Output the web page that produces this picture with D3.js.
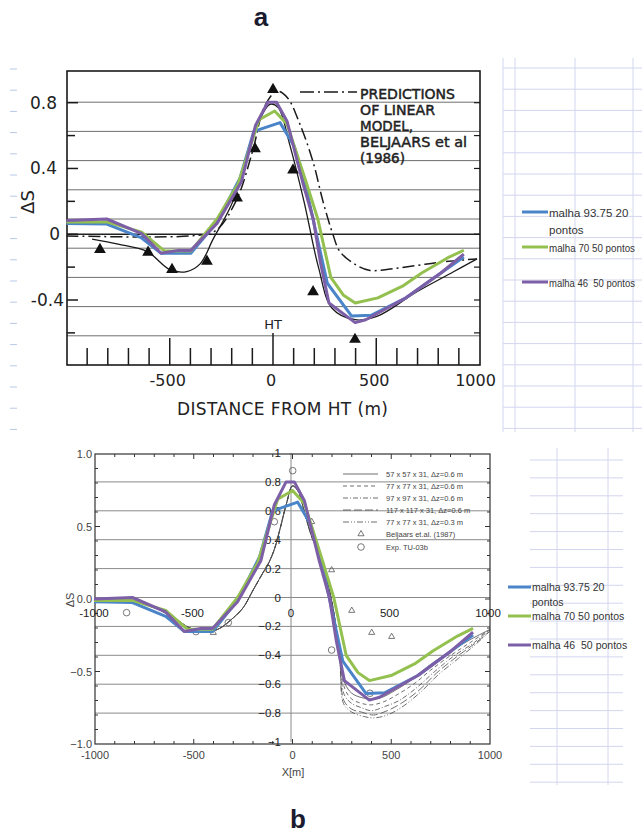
<!DOCTYPE html>
<html>
<head>
<meta charset="utf-8">
<script src="https://cdn.jsdelivr.net/npm/d3@7"></script>
<style>
  body { margin: 0; background: #fff; }
  svg { display: block; }
</style>
</head>
<body>
<svg id="fig" width="642" height="833"></svg>
<script>
// ---------- series computed on three meshes (shared by both panels) ----------
const seriesNames  = ["malha 93.75 20 pontos", "malha 70 50 pontos", "malha 46  50 pontos"];
const seriesColors = ["#4a84c9", "#93c04f", "#7d5fa8"];

const malha9375 = [[-1000,-0.03],[-805,-0.035],[-636,-0.13],[-542,-0.235],[-398,-0.235],[-271,-0.02],
  [-160,0.28],[-93,0.60],[34,0.66],[102,0.50],[150,0.28],[200,-0.04],[263,-0.44],[381,-0.665],
  [475,-0.66],[644,-0.54],[813,-0.37],[924,-0.26]];
const malha70 = [[-1000,-0.02],[-805,-0.02],[-636,-0.09],[-525,-0.22],[-398,-0.22],[-271,0.0],
  [-169,0.24],[-68,0.68],[8,0.74],[68,0.65],[161,0.25],[217,0.0],[280,-0.40],[340,-0.52],
  [398,-0.575],[508,-0.54],[627,-0.46],[720,-0.37],[847,-0.265],[924,-0.214]];
const malha46 = [[-1000,-0.01],[-805,0.0],[-636,-0.10],[-542,-0.235],[-458,-0.215],[-398,-0.215],
  [-271,-0.03],[-153,0.255],[-85,0.64],[-25,0.80],[17,0.80],[68,0.67],[144,0.25],[195,0.0],
  [230,-0.30],[271,-0.575],[398,-0.71],[449,-0.69],[644,-0.54],[813,-0.37],[924,-0.24]];
const seriesData = [malha9375, malha70, malha46];

// ---------- panel a: field data and linear model ----------
const fieldTriangles = [[-838,-0.093],[-605,-0.11],[-489,-0.215],[-320,-0.165],[-174,0.22],
  [-87,0.52],[0,0.88],[97,0.39],[194,-0.35],[397,-0.64]];
const fittedCurve = [[-876,-0.03],[-750,-0.06],[-610,-0.105],[-499,-0.215],[-418,-0.227],
  [-353,-0.18],[-290,-0.03],[-194,0.2],[-97,0.6],[-15,0.79],[25,0.77],[80,0.55],[150,0.2],
  [220,-0.2],[286,-0.45],[397,-0.52],[503,-0.5],[697,-0.35],[872,-0.23],[988,-0.15]];
const linearModel = [[-1000,-0.01],[-400,-0.01],[-280,0.02],[-180,0.2],[-100,0.5],[-40,0.78],
  [20,0.87],[70,0.83],[131,0.667],[194,0.44],[242,0.2],[290,0.0],[324,-0.105],[406,-0.19],
  [470,-0.22],[581,-0.21],[697,-0.19],[809,-0.17],[988,-0.15]];
const legendA = ["PREDICTIONS", "OF LINEAR", "MODEL,", "BELJAARS et al", "(1986)"];
const legendAWidths = [95, 75, 53, 107, 45];
const yTicksA = [0.8, 0.4, 0, -0.4];
const yMinorA = [0.6, 0.2, -0.2, -0.6];
const xTicksA = [-500, 0, 500, 1000];

// ---------- panel b: grid-resolution runs ----------
const runsRise = [[-1000,-0.01],[-900,-0.01],[-800,-0.02],[-700,-0.06],[-600,-0.13],[-520,-0.2],
  [-450,-0.22],[-380,-0.21],[-300,-0.13],[-250,-0.06],[-200,0.06],[-150,0.18],[-120,0.25],
  [-90,0.35],[-60,0.5],[-30,0.66],[0,0.78],[30,0.74],[60,0.6],[100,0.42],[140,0.3],[180,0.1],[210,-0.1]];
const run57  = [[240,-0.38],[265,-0.58],[300,-0.65],[350,-0.68],[400,-0.69],[450,-0.68],[520,-0.63],[600,-0.56],[700,-0.45],[800,-0.36],[900,-0.28],[1000,-0.21]];
const run77  = [[240,-0.40],[265,-0.62],[300,-0.69],[350,-0.72],[400,-0.73],[460,-0.71],[530,-0.66],[620,-0.58],[700,-0.49],[800,-0.39],[900,-0.30],[1000,-0.21]];
const run97  = [[240,-0.42],[262,-0.66],[300,-0.72],[350,-0.75],[400,-0.77],[470,-0.74],[540,-0.70],[630,-0.61],[720,-0.50],[820,-0.39],[920,-0.30],[1000,-0.21]];
const run117 = [[240,-0.43],[260,-0.70],[300,-0.76],[350,-0.78],[410,-0.80],[480,-0.77],[550,-0.72],[640,-0.63],[730,-0.51],[830,-0.40],[930,-0.30],[1000,-0.22]];
const run77f = [[240,-0.44],[258,-0.72],[300,-0.78],[360,-0.81],[410,-0.82],[480,-0.80],[560,-0.74],[650,-0.64],[740,-0.52],[840,-0.41],[930,-0.31],[1000,-0.22]];
const runs = [run57, run77, run97, run117, run77f];
const runLabels = ["57 x 57 x 31, \u0394z=0.6 m", "77 x 77 x 31, \u0394z=0.6 m", "97 x 97 x 31, \u0394z=0.6 m",
  "117 x 117 x 31, \u0394z=0.6 m", "77 x 77 x 31, \u0394z=0.3 m"];
const runDash = ["none", "4,3", "5,2,1,2", "8,3", "6,2,1,2,1,2"];
const beljaarsPts = [[-401,-0.232],[97,0.533],[198,0.2],[300,-0.08],[401,-0.232],[502,-0.26]];
const expPts = [[-840,-0.094],[-489,-0.225],[-325,-0.163],[-92,0.533],[1,0.885],[198,-0.352],[392,-0.65]];
const yTicksB = [1.0, 0.5, 0.0, -0.5, -1.0];
const xTicksB = [-1000, -500, 0, 500, 1000];
const yTicksBe = [1, 0.8, 0.6, 0.4, 0.2, 0, -0.2, -0.4, -0.6, -0.8, -1];
const gridLevels = [0.8, 0.6, 0.4, 0.2, 0, -0.2, -0.4, -0.6, -0.8];

const svg = d3.select("#fig");
const fmt1 = d3.format(".1f");

// ---------- scales ----------
const xA  = d3.scaleLinear([-1000, 1000], [66.5, 479.5]);
const yAo = d3.scaleLinear([-0.4, 0.8], [300, 102.7]);
const yAe = d3.scaleLinear([-1, 1], [365, 73]);

const xBo = d3.scaleLinear([-1000, 1000], [95, 490]);
const yBo = d3.scaleLinear([-1, 1], [744, 454]);
const xBe = d3.scaleLinear([-1000, 1000], [94, 488]);
const yBe = d3.scaleLinear([-1, 1], [742, 453]);

const lineOf = (xs, ys, curve) => d3.line().x(d => xs(d[0])).y(d => ys(d[1])).curve(curve || d3.curveLinear);

// ---------- spreadsheet background cells ----------
const cellA = svg.append("g").attr("stroke", "#d3d6ef").attr("stroke-width", 1);
d3.range(18).forEach(i => {
  const y = 68 + i * 21.2;
  cellA.append("line").attr("x1", 503).attr("x2", 642).attr("y1", y).attr("y2", y);
  svg.append("line").attr("x1", 10).attr("x2", 17).attr("y1", y + 1).attr("y2", y + 1)
    .attr("stroke", "#b9c8e6").attr("stroke-width", 1);
});
[503, 515, 575, 633].forEach(x => cellA.append("line").attr("x1", x).attr("x2", x).attr("y1", 58).attr("y2", 432));

const cellB = svg.append("g").attr("stroke", "#d3d6ef").attr("stroke-width", 1);
d3.range(19).forEach(i => {
  const y = 460 + i * 17.9;
  cellB.append("line").attr("x1", 530).attr("x2", 623).attr("y1", y).attr("y2", y);
});
[557, 608].forEach(x => cellB.append("line").attr("x1", x).attr("x2", x).attr("y1", 448).attr("y2", 785));

// ================= panel a =================
const gA = svg.append("g");
// overlay gridlines
gridLevels.forEach(v => gA.append("line").attr("x1", 67).attr("x2", 480)
  .attr("y1", yAe(v)).attr("y2", yAe(v)).attr("stroke", "#6f6f6f").attr("stroke-width", 1));
// frame
gA.append("rect").attr("x", 67).attr("y", 71).attr("width", 413).attr("height", 294)
  .attr("fill", "none").attr("stroke", "#1a1a1a").attr("stroke-width", 1.6);
// zero line of the original axis
gA.append("line").attr("x1", 67).attr("x2", 480).attr("y1", yAo(0)).attr("y2", yAo(0))
  .attr("stroke", "#222").attr("stroke-width", 1.5);
// y ticks
yTicksA.forEach(v => gA.append("line").attr("x1", 67).attr("x2", 78).attr("y1", yAo(v)).attr("y2", yAo(v))
  .attr("stroke", "#1a1a1a").attr("stroke-width", 1.5));
yMinorA.forEach(v => gA.append("line").attr("x1", 67).attr("x2", 75).attr("y1", yAo(v)).attr("y2", yAo(v))
  .attr("stroke", "#1a1a1a").attr("stroke-width", 1.5));
yTicksA.concat(yMinorA).forEach(v => gA.append("line").attr("x1", 474).attr("x2", 480)
  .attr("y1", yAo(v)).attr("y2", yAo(v)).attr("stroke", "#1a1a1a").attr("stroke-width", 1.2));
yTicksA.forEach(v => gA.append("text").attr("x", v < 0 ? 64 : (v === 0 ? 60 : 57)).attr("y", yAo(v) + 6)
  .attr("text-anchor", "end").attr("font-family", "DejaVu Sans").attr("font-size", 17)
  .attr("fill", "#222").text(v === 0 ? "0" : (v < 0 ? "-" + fmt1(-v) : fmt1(v))));
// x ticks along the base
d3.range(-900, 1000, 100).forEach(v => {
  const top = v === 0 ? 333 : (Math.abs(v) === 500 ? 338 : 348);
  gA.append("line").attr("x1", xA(v)).attr("x2", xA(v)).attr("y1", top).attr("y2", 365)
    .attr("stroke", "#1a1a1a").attr("stroke-width", 1.5);
});
gA.append("text").attr("x", xA(0)).attr("y", 329).attr("text-anchor", "middle")
  .attr("font-family", "DejaVu Sans").attr("font-size", 13).attr("fill", "#222").text("HT");
xTicksA.forEach(v => gA.append("text").attr("x", xA(v) + (v === 1000 ? -4 : -2)).attr("y", 386)
  .attr("text-anchor", "middle").attr("font-family", "DejaVu Sans").attr("font-size", 16)
  .attr("fill", "#222").text(v));
gA.append("text").attr("x", 177).attr("y", 415).attr("textLength", 211).attr("lengthAdjust", "spacing")
  .attr("font-family", "DejaVu Sans").attr("font-size", 17).attr("fill", "#222")
  .text("DISTANCE FROM HT (m)");
gA.append("text").attr("transform", "translate(34,202) rotate(-90)").attr("text-anchor", "middle")
  .attr("font-family", "DejaVu Sans").attr("font-size", 18).attr("fill", "#222").text("\u0394S");
// model curves
gA.append("path").attr("d", lineOf(xA, yAo, d3.curveCatmullRom)(fittedCurve))
  .attr("fill", "none").attr("stroke", "#1a1a1a").attr("stroke-width", 1.3);
gA.append("path").attr("d", lineOf(xA, yAo, d3.curveCatmullRom)(linearModel))
  .attr("fill", "none").attr("stroke", "#1a1a1a").attr("stroke-width", 1.5)
  .attr("stroke-dasharray", "12,4,2,4");
// field triangles
gA.selectAll(".tri").data(fieldTriangles).join("path")
  .attr("transform", d => `translate(${xA(d[0])},${yAo(d[1])})`)
  .attr("d", d3.symbol(d3.symbolTriangle, 60)()).attr("fill", "#111");
// legend of the model
gA.append("line").attr("x1", 300).attr("x2", 357).attr("y1", 92).attr("y2", 92)
  .attr("stroke", "#1a1a1a").attr("stroke-width", 1.5).attr("stroke-dasharray", "14,4,2,4");
legendA.forEach((t, i) => gA.append("text").attr("x", 360).attr("y", [99, 115, 131, 147, 163][i])
  .attr("textLength", legendAWidths[i]).attr("lengthAdjust", "spacingAndGlyphs")
  .attr("font-family", "DejaVu Sans").attr("font-size", 13.5)
  .attr("fill", "#222").attr("stroke", "#222").attr("stroke-width", 0.45).text(t));
// mesh series
seriesData.forEach((s, i) => gA.append("path").attr("d", lineOf(xA, yAe)(s))
  .attr("fill", "none").attr("stroke", seriesColors[i]).attr("stroke-width", 3)
  .attr("stroke-linejoin", "round"));

// legend (panel a) – labels kept inside the sheet edge
const legA = [{y: 212, lines: ["malha 93.75 20", "pontos"]}, {y: 247, lines: ["malha 70 50 pontos"]},
  {y: 282, lines: ["malha 46  50 pontos"]}];
legA.forEach((L, i) => {
  svg.append("line").attr("x1", 522).attr("x2", 548).attr("y1", L.y).attr("y2", L.y)
    .attr("stroke", seriesColors[i]).attr("stroke-width", 3);
  L.lines.forEach((t, j) => {
    const tx = svg.append("text").attr("x", 549).attr("y", L.y + 4.5 + j * 17)
      .attr("font-family", "Liberation Sans").attr("font-size", t.length > 15 ? 10 : 11.5).attr("fill", "#333")
      .style("white-space", "pre").text(t);
    if (t.length > 15) tx.attr("textLength", 86).attr("lengthAdjust", "spacingAndGlyphs");
  });
});

// ================= panel b =================
const gB = svg.append("g");
gridLevels.forEach(v => gB.append("line").attr("x1", 95).attr("x2", 490)
  .attr("y1", yBe(v)).attr("y2", yBe(v)).attr("stroke", "#8a8a8a").attr("stroke-width", 1));
gB.append("line").attr("x1", xBe(0)).attr("x2", xBe(0)).attr("y1", 453).attr("y2", 742)
  .attr("stroke", "#8a8a8a").attr("stroke-width", 1);
gB.append("rect").attr("x", 95).attr("y", 454).attr("width", 395).attr("height", 290)
  .attr("fill", "none").attr("stroke", "#333").attr("stroke-width", 1.2);
// frame ticks
d3.range(-0.9, 1.0, 0.1).forEach(v => {
  const len = Math.abs(Math.round(v * 10) % 5) === 0 ? 5 : 3;
  gB.append("line").attr("x1", 95).attr("x2", 95 + len).attr("y1", yBo(v)).attr("y2", yBo(v)).attr("stroke", "#333");
  gB.append("line").attr("x1", 490 - len).attr("x2", 490).attr("y1", yBo(v)).attr("y2", yBo(v)).attr("stroke", "#333");
});
d3.range(-900, 1000, 100).forEach(v => {
  const len = v % 500 === 0 ? 5 : 3;
  gB.append("line").attr("x1", xBo(v)).attr("x2", xBo(v)).attr("y1", 744 - len).attr("y2", 744).attr("stroke", "#333");
  gB.append("line").attr("x1", xBo(v)).attr("x2", xBo(v)).attr("y1", 454).attr("y2", 454 + len).attr("stroke", "#333");
});
yTicksB.forEach(v => gB.append("text").attr("x", 92).attr("y", yBo(v) + 4).attr("text-anchor", "end")
  .attr("font-family", "Liberation Sans").attr("font-size", 11).attr("fill", "#444").text(fmt1(v)));
xTicksB.forEach(v => gB.append("text").attr("x", xBo(v)).attr("y", 759).attr("text-anchor", "middle")
  .attr("font-family", "Liberation Sans").attr("font-size", 11).attr("fill", "#444").text(v));
gB.append("text").attr("x", 293).attr("y", 776).attr("text-anchor", "middle")
  .attr("font-family", "Liberation Sans").attr("font-size", 11).attr("fill", "#444").text("X[m]");
gB.append("text").attr("transform", "translate(74,600) rotate(-90)").attr("text-anchor", "middle")
  .attr("font-family", "Liberation Sans").attr("font-size", 11).attr("fill", "#444").text("\u0394S");
// overlay axis labels
yTicksBe.forEach(v => gB.append("text").attr("x", 281).attr("y", yBe(v) + 4).attr("text-anchor", "end")
  .attr("font-family", "Liberation Sans").attr("font-size", 11.5).attr("fill", "#222")
  .text(v === 0 ? "0" : d3.format("")(v)));
xTicksB.forEach(v => gB.append("text").attr("x", xBe(v)).attr("y", 617).attr("text-anchor", "middle")
  .attr("font-family", "Liberation Sans").attr("font-size", 11.5).attr("fill", "#222").text(v));
// resolution runs
runs.forEach((r, i) => gB.append("path").attr("d", lineOf(xBo, yBo, d3.curveCatmullRom)(runsRise.concat(r)))
  .attr("fill", "none").attr("stroke", "#4a4a4a").attr("stroke-width", 0.8)
  .attr("stroke-dasharray", runDash[i]));
// markers
gB.selectAll(".bt").data(beljaarsPts).join("path")
  .attr("transform", d => `translate(${xBo(d[0])},${yBo(d[1])})`)
  .attr("d", d3.symbol(d3.symbolTriangle, 16)()).attr("fill", "none").attr("stroke", "#555").attr("stroke-width", 0.8);
gB.selectAll(".bc").data(expPts).join("circle")
  .attr("cx", d => xBo(d[0])).attr("cy", d => yBo(d[1])).attr("r", 3.3)
  .attr("fill", "none").attr("stroke", "#555").attr("stroke-width", 0.8);
// run legend
runLabels.forEach((t, i) => {
  const y = 474 + i * 12;
  gB.append("line").attr("x1", 343).attr("x2", 378).attr("y1", y).attr("y2", y)
    .attr("stroke", "#4a4a4a").attr("stroke-width", 0.8).attr("stroke-dasharray", runDash[i]);
  gB.append("text").attr("x", 386).attr("y", y + 2.5).attr("font-family", "Liberation Sans Narrow, Liberation Sans")
    .attr("font-size", 7.5).attr("fill", "#444").text(t);
});
gB.append("path").attr("transform", "translate(361,534)").attr("d", d3.symbol(d3.symbolTriangle, 16)())
  .attr("fill", "none").attr("stroke", "#555").attr("stroke-width", 0.8);
gB.append("text").attr("x", 386).attr("y", 536.5).attr("font-family", "Liberation Sans Narrow, Liberation Sans")
  .attr("font-size", 7.5).attr("fill", "#444").text("Beljaars et.al. (1987)");
gB.append("circle").attr("cx", 361).attr("cy", 547).attr("r", 3.3).attr("fill", "none").attr("stroke", "#555").attr("stroke-width", 0.8);
gB.append("text").attr("x", 386).attr("y", 549.5).attr("font-family", "Liberation Sans Narrow, Liberation Sans")
  .attr("font-size", 7.5).attr("fill", "#444").text("Exp. TU-03b");
// mesh series
seriesData.forEach((s, i) => gB.append("path").attr("d", lineOf(xBe, yBe)(s))
  .attr("fill", "none").attr("stroke", seriesColors[i]).attr("stroke-width", 3)
  .attr("stroke-linejoin", "round"));

// legend (panel b)
const legB = [{y: 587, lines: ["malha 93.75 20", "pontos"]}, {y: 616, lines: ["malha 70 50 pontos"]},
  {y: 645, lines: ["malha 46  50 pontos"]}];
legB.forEach((L, i) => {
  svg.append("line").attr("x1", 508).attr("x2", 531).attr("y1", L.y).attr("y2", L.y)
    .attr("stroke", seriesColors[i]).attr("stroke-width", 3);
  L.lines.forEach((t, j) => svg.append("text").attr("x", 532).attr("y", L.y + 4 + j * 15)
    .attr("font-family", "Liberation Sans").attr("font-size", 10.5).attr("fill", "#333")
    .style("white-space", "pre").text(t));
});

// panel letters
svg.append("text").attr("x", 261).attr("y", 26).attr("text-anchor", "middle")
  .attr("font-family", "Liberation Sans").attr("font-weight", "bold").attr("font-size", 26)
  .attr("fill", "#1b1b30").text("a");
svg.append("text").attr("x", 298).attr("y", 828).attr("text-anchor", "middle")
  .attr("font-family", "Liberation Sans").attr("font-weight", "bold").attr("font-size", 26)
  .attr("fill", "#1b1b30").text("b");
</script>
</body>
</html>
